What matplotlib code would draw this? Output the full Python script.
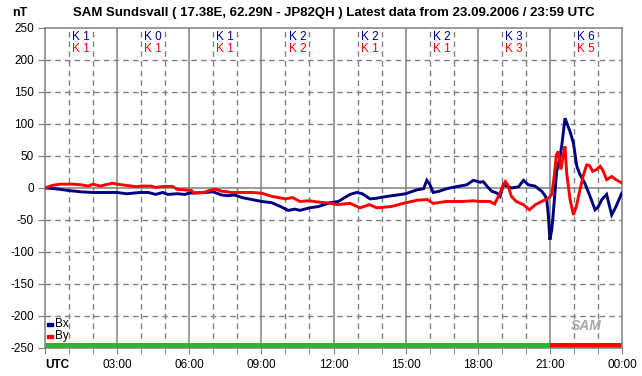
import matplotlib
matplotlib.use("Agg")
import matplotlib.pyplot as plt
from matplotlib.patches import Rectangle

# Magnetometer data (hours UTC, nT)
bx_hours = [0.0, 0.4, 1.0, 1.5, 2.0, 3.0, 3.4, 3.95, 4.3, 4.6, 4.9, 5.1, 5.5, 5.82, 6.0,
            6.66, 7.0, 7.35, 7.6, 7.9, 8.2, 8.6, 9.0, 9.43, 9.8, 10.12, 10.4, 10.6, 11.0,
            11.37, 11.86, 12.2, 12.69, 12.97, 13.2, 13.52, 13.8, 14.07, 14.63, 15.0, 15.46,
            15.75, 15.88, 16.0, 16.15, 16.4, 16.71, 17.1, 17.54, 17.82, 18.1, 18.23, 18.4,
            18.58, 18.8, 18.93, 19.06, 19.41, 19.7, 19.9, 20.1, 20.38, 20.66, 20.8, 20.87,
            20.94, 21.0, 21.08, 21.14, 21.28, 21.4, 21.49, 21.63, 21.84, 21.98, 22.12, 22.25,
            22.46, 22.67, 22.88, 23.0, 23.16, 23.36, 23.57, 23.75, 23.99]
bx_values = [0, -1, -4, -6, -7, -7, -9, -7, -7, -10, -7, -10, -9, -10, -8,
             -7, -6, -11, -12, -11, -15, -18, -21, -23, -29, -35, -33, -35, -31,
             -29, -23, -21, -10, -7, -9, -17, -16, -14, -11, -9, -3,
             -1, 12, 6, -7, -5, -1, 2, 5, 12, 9, 10, 2,
             -5, -8, -13, 5, 0, 2, 12, 5, 3, -5, -12, -18,
             -45, -81, -65, -40, 25, 45, 65, 109, 88, 70, 34, 21,
             7, -13, -34, -30, -18, -10, -42, -29, -8]

by_hours = [0.0, 0.3, 0.6, 1.2, 1.5, 1.8, 2.0, 2.3, 2.8, 3.0, 3.4, 3.8, 4.0, 4.4, 4.6,
            5.0, 5.3, 5.5, 5.82, 6.1, 6.2, 6.6, 6.9, 7.1, 7.35, 7.6, 7.75, 8.6, 9.0, 9.43,
            10.0, 10.3, 10.6, 11.0, 11.37, 11.9, 12.15, 12.7, 13.1, 13.5, 13.8, 14.4, 14.9,
            15.5, 15.9, 16.15, 16.7, 17.4, 17.8, 18.1, 18.5, 18.7, 18.9, 19.06, 19.15, 19.25,
            19.4, 19.6, 19.9, 20.15, 20.4, 20.66, 20.94, 21.08, 21.18, 21.27, 21.35, 21.46,
            21.56, 21.63, 21.7, 21.84, 21.98, 22.1, 22.25, 22.4, 22.53, 22.65, 22.78, 22.95,
            23.09, 23.2, 23.36, 23.57, 23.75, 23.99]
by_values = [0, 4, 6, 6, 5, 3, 6, 3, 7.5, 6, 4, 2, 3, 3, 1,
             2.5, 2.5, -2, -3, -4, -8, -7, -3, -2, -5, -6, -7, -7, -8, -13,
             -17, -15, -21, -20, -22, -24, -26, -24, -31, -26, -31, -29, -24,
             -19, -18, -24, -21, -21, -20, -21, -21, -25, -10, 4, 10, 5,
             -13, -21, -26, -34, -26, -21, -16, -10, 18, 52, 57, 29,
             52, 65, 23, -18, -42, -29, -3, 21, 36, 35, 26, 29,
             34, 28, 13, 18, 13, 8]

# K indices per 3-hour block
k_bx = [1, 0, 1, 2, 2, 2, 3, 6]
k_by = [1, 1, 1, 2, 1, 1, 3, 5]

x_ticks = [0, 3, 6, 9, 12, 15, 18, 21, 24]
x_labels = ["UTC", "03:00", "06:00", "09:00", "12:00", "15:00", "18:00", "21:00", "00:00"]
y_ticks = [-250, -200, -150, -100, -50, 0, 50, 100, 150, 200, 250]

# status bar at the bottom: (start hour, end hour, colour)
status = [(0, 21, "#22bb22"), (21, 24, "#ff0000")]

plt.rcParams['font.family'] = ['Liberation Sans', 'DejaVu Sans']

W, H = 642, 376
fig = plt.figure(figsize=(W / 100, H / 100), dpi=100)
fig.patch.set_facecolor("white")
ax = fig.add_axes([45 / W, 1 - 348 / H, 577 / W, 320 / H])
ax.set_xlim(0, 24)
ax.set_ylim(-250, 250)

grid = "#808080"
# grid lines
for h in range(1, 24):
    if h % 3 == 0:
        ax.axvline(h, color=grid, lw=1.1, zorder=1)
    else:
        ax.axvline(h, color=grid, lw=1.0, ls=(0, (4, 3)), zorder=1)
for v in y_ticks[1:-1]:
    if v == 0:
        ax.axhline(v, color=grid, lw=1.1, zorder=1)
    else:
        ax.axhline(v, color=grid, lw=1.0, ls=(0, (4, 3)), zorder=1)

for s in ax.spines.values():
    s.set_color(grid)
    s.set_linewidth(1.1)

# status bar
for a, b, c in status:
    ax.add_patch(Rectangle((a, -250), b - a, 8, color=c, lw=0, zorder=2))

ax.plot(by_hours, by_values, color="#ff0000", lw=2.1, zorder=4, solid_joinstyle="miter")
ax.plot(bx_hours, bx_values, color="#000080", lw=2.1, zorder=3, solid_joinstyle="miter")

# K index labels
for i, (kb, kr) in enumerate(zip(k_bx, k_by)):
    xc = i * 3 + 1.5
    ax.text(xc, 236, f"K {kb}", color="#000080", ha="center", va="center", fontsize=8.5, zorder=5)
    ax.text(xc, 217, f"K {kr}", color="#ff0000", ha="center", va="center", fontsize=8.5, zorder=5)

# ticks
ax.set_xticks(x_ticks)
ax.set_xticklabels(x_labels, fontsize=8.5)
ax.set_xticks(range(25), minor=True)
ax.tick_params(axis="x", which="both", length=4, color=grid, pad=4, direction="out")
ax.set_yticks(y_ticks)
ax.set_yticklabels([str(v) for v in y_ticks], fontsize=8.5)
ax.tick_params(axis="y", length=5, color=grid, pad=3, direction="out")
lbl = ax.get_xticklabels()[0]
lbl.set_fontweight("bold")
lbl.set_horizontalalignment("left")

# legend
ax.add_patch(Rectangle((0.1, -216), 0.22, 5, color="#000080", zorder=5))
ax.text(0.42, -213, "Bx", fontsize=8.5, va="center", zorder=5)
ax.add_patch(Rectangle((0.1, -235), 0.22, 5, color="#ff0000", zorder=5))
ax.text(0.42, -232, "By", fontsize=8.5, va="center", zorder=5)

# logo
ax.text(22.5, -215, "SAM", fontsize=10, fontweight="bold", fontstyle="italic",
        color="#a8a8a8", ha="center", va="center", zorder=5)

fig.text(334 / W, 1 - 13 / H,
         "SAM Sundsvall ( 17.38E, 62.29N - JP82QH ) Latest data from 23.09.2006 / 23:59 UTC",
         ha="center", va="center", fontsize=9.5, fontweight="bold")
fig.text(20 / W, 1 - 13 / H, "nT", ha="center", va="center", fontsize=9, fontweight="bold")

fig.savefig("out.png", dpi=100)
